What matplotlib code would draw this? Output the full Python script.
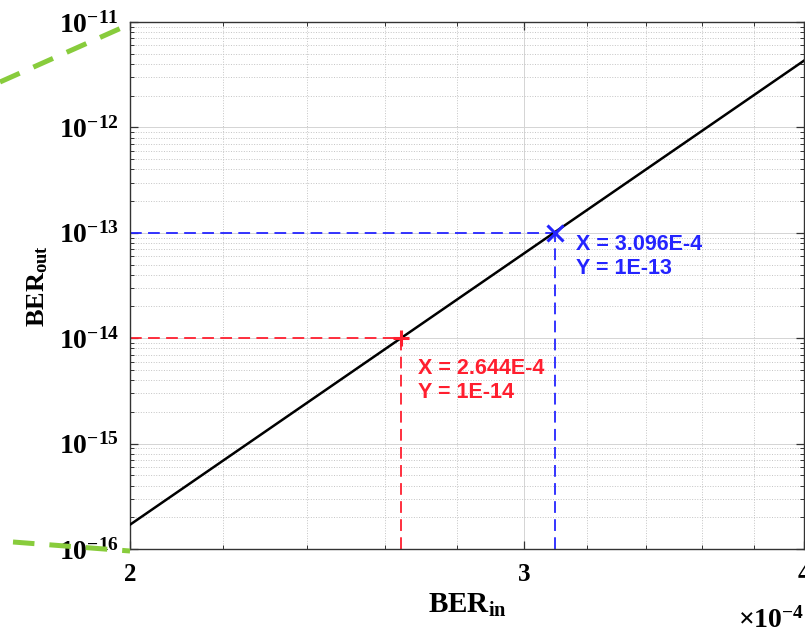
import numpy as np
import matplotlib
matplotlib.use('Agg')
import matplotlib.pyplot as plt
from matplotlib.lines import Line2D
from matplotlib.ticker import FixedLocator, FixedFormatter, NullFormatter

plt.rcParams.update({
    'font.family': 'serif',
    'font.serif': ['Liberation Serif', 'DejaVu Serif'],
    'mathtext.fontset': 'custom',
    'mathtext.rm': 'Liberation Serif:bold',
    'mathtext.bf': 'Liberation Serif:bold',
    'mathtext.it': 'Liberation Serif:bold',
    'xtick.direction': 'in',
    'ytick.direction': 'in',
})

# curve end points (BER_in, BER_out), straight line on log-log axes
ber_in = [2.0e-4, 4.0e-4]
ber_out = [1.7e-16, 4.3e-12]

# data cursor points
pt_red = (2.644e-4, 1e-14)
pt_blue = (3.096e-4, 1e-13)
red_txt = ['X = 2.644E-4', 'Y = 1E-14']
blue_txt = ['X = 3.096E-4', 'Y = 1E-13']

x_major = [2e-4, 3e-4, 4e-4]
x_major_lbl = ['2', '3', '4']
x_minor = [2.2e-4, 2.4e-4, 2.6e-4, 2.8e-4, 3.2e-4, 3.4e-4, 3.6e-4, 3.8e-4]
y_major = [1e-16, 1e-15, 1e-14, 1e-13, 1e-12, 1e-11]
y_major_lbl = [r'$\mathbf{10^{%d}}$' % e for e in range(-16, -10)]
y_minor = [m * 10.0**e for e in range(-16, -11) for m in range(2, 10)]

RED = '#ff1f2f'
BLUE = '#2424ff'
GREEN = '#88cc3c'

fig = plt.figure(figsize=(8.05, 6.37), dpi=100)
ax = fig.add_axes([130/805, 88/637, 674/805, 527/637])
ax.set_xscale('log')
ax.set_yscale('log')
ax.set_xlim(2e-4, 4e-4)
ax.set_ylim(1e-16, 1e-11)

ax.xaxis.set_major_locator(FixedLocator(x_major))
ax.xaxis.set_major_formatter(FixedFormatter(x_major_lbl))
ax.xaxis.set_minor_locator(FixedLocator(x_minor))
ax.xaxis.set_minor_formatter(NullFormatter())
ax.yaxis.set_major_locator(FixedLocator(y_major))
ax.yaxis.set_major_formatter(FixedFormatter(y_major_lbl))
ax.yaxis.set_minor_locator(FixedLocator(y_minor))
ax.yaxis.set_minor_formatter(NullFormatter())

ax.grid(True, which='major', color='#d4d4d4', linestyle='-', linewidth=0.7)
ax.grid(True, which='minor', color='#c4c4c4', linestyle=':', linewidth=0.7)
ax.set_axisbelow(True)
ax.tick_params(which='both', top=True, right=True, color='#333333')
ax.tick_params(axis='x', which='major', labelsize=18, pad=10)
ax.tick_params(axis='y', which='major', labelsize=20, pad=8)
ax.tick_params(which='major', length=6, width=0.9)
ax.tick_params(which='minor', length=3, width=0.7)
for lbl in ax.get_xticklabels():
    lbl.set_fontweight('bold')
for s in ax.spines.values():
    s.set_color('#333333')
    s.set_linewidth(1.0)

ax.plot(ber_in, ber_out, color='black', linewidth=1.8, zorder=3)

dash = (0, (6.5, 3.5))
# last tuple item: text offset from the marker, in points
for (px, py), col, mk, txt, off in [
    (pt_red, RED, '+', red_txt, (12, -14)),
    (pt_blue, BLUE, 'x', blue_txt, (15, -1)),
]:
    ax.plot([2e-4, px], [py, py], color=col, linestyle=dash, linewidth=1.3, zorder=2)
    ax.plot([px, px], [1e-16, py], color=col, linestyle=dash, linewidth=1.3, zorder=2)
    ax.plot([px], [py], marker=mk, color=col, markersize=11, markeredgewidth=2.2, zorder=4)
    ax.annotate(txt[0] + '\n' + txt[1], xy=(px, py), xytext=off,
                textcoords='offset points', ha='left', va='top', color=col,
                fontsize=15.5, fontweight='bold', family='Liberation Sans',
                linespacing=1.2)

ax.set_xlabel(r'$\mathbf{BER_{in}}$', fontsize=21, labelpad=4)
ax.set_ylabel(r'$\mathbf{BER_{out}}$', fontsize=19, labelpad=6)

fig.text(738/805, 1 - 620/637, r'$\times\mathbf{10^{-4}}$', fontsize=20,
         ha='left', va='center')

# green dashed lines from the surrounding figure
fig.add_artist(Line2D([0, 128/805], [1 - 82/637, 1 - 25/637], transform=fig.transFigure,
                      color=GREEN, linewidth=3.6, linestyle=(0, (4.3, 3.0)), zorder=10))
fig.add_artist(Line2D([13/805, 130/805], [1 - 542/637, 1 - 551/637], transform=fig.transFigure,
                      color=GREEN, linewidth=3.6, linestyle=(0, (4.3, 3.0)), zorder=10))

fig.savefig('out.png', dpi=100)
